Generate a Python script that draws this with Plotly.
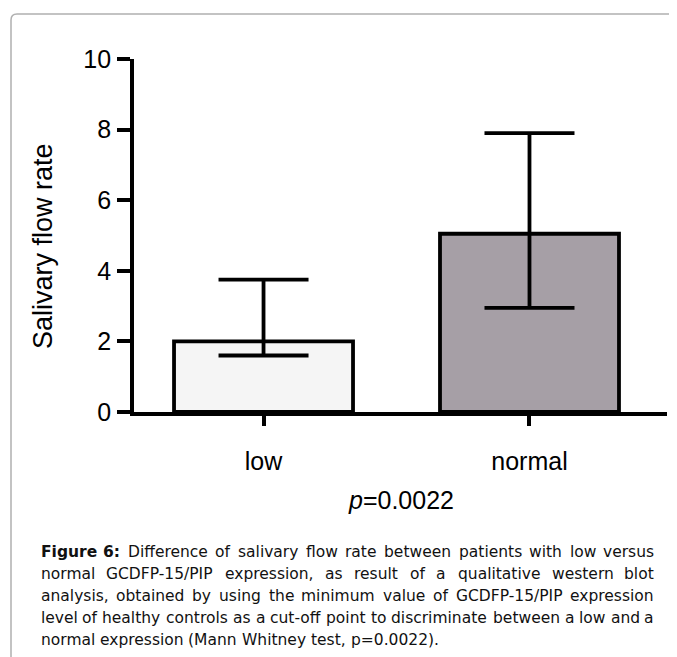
import plotly.graph_objects as go

categories = ["low", "normal"]
means = [2.0, 5.05]
upper = [3.75, 7.9]
lower = [1.6, 2.95]
fills = ["#F5F5F5", "#A69FA6"]
y_ticks = [0, 2, 4, 6, 8, 10]

caption_lines = [
    "Figure 6: Difference of salivary flow rate between patients with low versus",
    "normal GCDFP-15/PIP expression, as result of a qualitative western blot",
    "analysis, obtained by using the minimum value of GCDFP-15/PIP expression",
    "level of healthy controls as a cut-off point to discriminate between a low and a",
    "normal expression (Mann Whitney test, p=0.0022).",
]
bold_words = 2   # "Figure 6:" is bold

OFF = 8                       # default body margin of the page
W, H = 677 - OFF, 657 - OFF   # figure size
PL, PR, PT, PB = 134, 667, 59, 412   # plot area in page pixels


def px(x):
    return (x - PL) / (PR - PL)


def py(y):
    return (PB - y) / (PB - PT)


err_plus = [u - m for u, m in zip(upper, means)]
err_minus = [m - lo for m, lo in zip(means, lower)]

fig = go.Figure()
fig.add_trace(go.Bar(
    x=categories, y=means, width=0.673,
    marker=dict(color=fills, line=dict(color="black", width=3.8)),
    error_y=dict(type="data", symmetric=False, array=err_plus, arrayminus=err_minus,
                 color="black", thickness=3.8, width=45),
))

FONT = "Liberation Sans, Arial, sans-serif"
CAP_FONT = "DejaVu Sans, sans-serif"
CAP_SIZE = 15.5

fig.update_layout(
    width=W, height=H,
    margin=dict(l=PL - OFF, r=W - (PR - OFF), t=PT - OFF, b=H - (PB - OFF), pad=0),
    plot_bgcolor="white", paper_bgcolor="white",
    showlegend=False,
    font=dict(family=FONT, color="black"),
    xaxis=dict(range=[-0.487, 1.517], showline=True, linecolor="black", linewidth=3.8,
               ticks="outside", ticklen=10, tickwidth=3.8, tickcolor="black",
               tickfont=dict(size=25), showgrid=False, zeroline=False,
               ticklabelstandoff=14),
    yaxis=dict(range=[0, 10], tickvals=y_ticks, showline=True, linecolor="black", linewidth=3.8,
               ticks="outside", ticklen=13, tickwidth=3.8, tickcolor="black",
               tickfont=dict(size=25), showgrid=False, zeroline=False,
               ticklabelstandoff=1),
)

annotations = [
    dict(text="Salivary flow rate", x=px(43), y=py(246), xref="paper", yref="paper",
         textangle=-90, showarrow=False, font=dict(size=27), xanchor="center", yanchor="middle"),
    dict(text="<i>p</i>=0.0022", x=px(401), y=py(500), xref="paper", yref="paper",
         showarrow=False, font=dict(size=25), xanchor="center", yanchor="middle"),
]

# approximate DejaVu Sans advance widths (units per em = 2048)
REG = {" ": 651, "(": 799, ")": 799, ",": 651, "-": 739, ".": 651, "/": 690, ":": 690,
       "=": 1716, "A": 1401, "B": 1405, "C": 1430, "D": 1577, "E": 1294, "F": 1178,
       "G": 1587, "H": 1540, "I": 604, "M": 1767, "N": 1532, "P": 1235, "W": 2025,
       "a": 1255, "b": 1300, "c": 1126, "d": 1300, "e": 1260, "f": 721, "g": 1300,
       "h": 1298, "i": 569, "j": 569, "k": 1186, "l": 569, "m": 1995, "n": 1298,
       "o": 1253, "p": 1300, "q": 1300, "r": 842, "s": 1067, "t": 803, "u": 1298,
       "v": 1212, "w": 1675, "x": 1212, "y": 1212, "z": 1075}
for d in "0123456789":
    REG[d] = 1303
BOLD = {"F": 1294, "i": 702, "g": 1466, "u": 1458, "r": 1010, "e": 1389, "6": 1425, ":": 819}


def word_w(word, bold):
    tab = BOLD if bold else REG
    return sum(tab.get(c, REG.get(c, 1200)) for c in word) / 2048 * CAP_SIZE


LEFT, RIGHT = 40, 655
for i, line in enumerate(caption_lines):
    toks = line.split(" ")
    words = [(w, i == 0 and k < bold_words) for k, w in enumerate(toks)]
    widths = [word_w(w, b) for w, b in words]
    yline = py(552 + 22 * i)
    justify = i < len(caption_lines) - 1
    if justify:
        gap = (RIGHT - LEFT - sum(widths)) / (len(words) - 1)
    else:
        gap = REG[" "] / 2048 * CAP_SIZE
    xcur = LEFT
    n = len(words)
    for j, ((w, b), ww) in enumerate(zip(words, widths)):
        txt = f"<b>{w}</b>" if b else w
        if j == 0:
            xa, xpos = "left", LEFT
        elif justify and j == n - 1:
            xa, xpos = "right", RIGHT
        else:
            xa, xpos = "center", xcur + ww / 2
        annotations.append(dict(
            text=txt, x=px(xpos), y=yline, xref="paper", yref="paper",
            showarrow=False, font=dict(size=CAP_SIZE, family=CAP_FONT, color="#111111"),
            xanchor=xa, yanchor="middle", borderpad=0))
        xcur += ww + gap

fig.update_layout(annotations=annotations)

# card border (left + top with rounded corner)
r = 6
path = (f"M {px(11)},{py(660)} L {px(11)},{py(14 + r)} "
        f"Q {px(11)},{py(14)} {px(11 + r)},{py(14)} L {px(680)},{py(14)}")
fig.add_shape(type="path", path=path, xref="paper", yref="paper",
              line=dict(color="#B0B0B0", width=1.5))

fig.write_html("out.html")
